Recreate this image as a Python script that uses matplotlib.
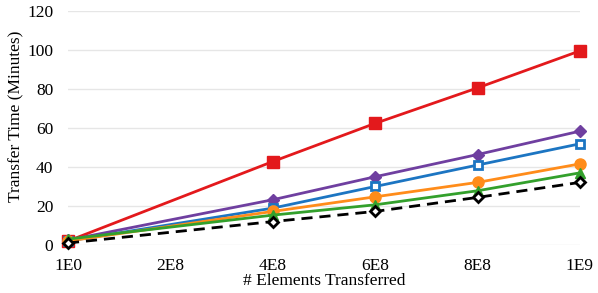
import matplotlib
matplotlib.use("Agg")
import matplotlib.pyplot as plt

x_vals = [1, 4e8, 6e8, 8e8, 1e9]
x_ticks = [0, 2e8, 4e8, 6e8, 8e8, 1e9]
x_ticklabels = ["1E0", "2E8", "4E8", "6E8", "8E8", "1E9"]

red = [2, 42.8, 62.4, 80.6, 99.6]
purple = [2.5, 23.2, 35, 46.4, 58.4]
blue = [2, 18.9, 30, 41, 51.9]
orange = [2, 17.2, 24.7, 32.1, 41.6]
green = [3, 15.3, 20.6, 27.8, 37]
black = [1, 12, 17.2, 24.4, 32.1]

plt.rcParams['font.family'] = ['Liberation Serif', 'DejaVu Serif']

fig = plt.figure(figsize=(5.98, 2.93), dpi=100)
ax = fig.add_axes([0.1137, 0.164, 0.856, 0.798])

kw = dict(lw=2, clip_on=False)
ax.plot(x_vals, red, color='#E3191C', marker='s', ms=8, zorder=5, **kw)
ax.plot(x_vals, purple, color='#6F3FA0', marker='D', ms=6, zorder=5, **kw)
ax.plot(x_vals, blue, color='#1C75C2', marker='s', ms=6, mfc='white', mew=2, zorder=5, **kw)
ax.plot(x_vals, orange, color='#FF8C1A', marker='o', ms=8, zorder=5, **kw)
ax.plot(x_vals, green, color='#33A02C', marker='^', ms=7.5, zorder=5, **kw)
ax.plot(x_vals, black, color='black', ls=(0, (4, 2.5)), marker='D', ms=5, mfc='white', mew=2, zorder=6, **kw)

ax.set_xlim(0, 1e9)
ax.set_ylim(0, 120)
ax.set_yticks(range(0, 121, 20))
ax.set_xticks(x_ticks)
ax.set_xticklabels(x_ticklabels)
ax.tick_params(axis='both', length=0, labelsize=12.5)
ax.tick_params(axis='x', pad=9.5)
ax.tick_params(axis='y', pad=10.5)
ax.grid(axis='y', color='#E6E6E6', lw=1)
ax.set_axisbelow(True)
for s in ax.spines.values():
    s.set_visible(False)
ax.set_xlabel('# Elements Transferred', fontsize=12.5, labelpad=-1)
ax.set_ylabel('Transfer Time (Minutes)', fontsize=12.5)
ax.yaxis.set_label_coords(-0.085, 0.55)

fig.savefig('out.png', dpi=100)
